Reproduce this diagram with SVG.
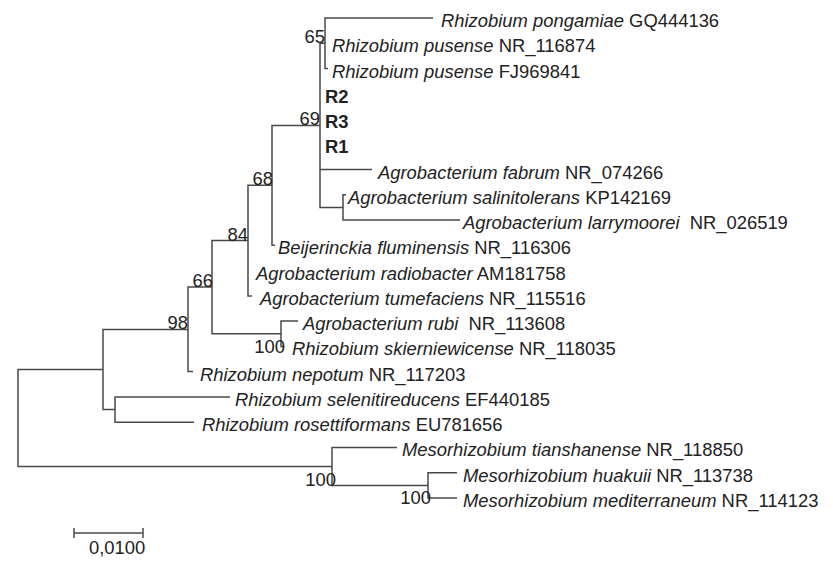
<svg xmlns="http://www.w3.org/2000/svg" width="833" height="573" viewBox="0 0 833 573">
<style>
  .br { fill: none; stroke: #4a4a4a; stroke-width: 1.5; }
  text { font-family: "Liberation Sans", Arial, sans-serif; font-size: 18.4px; fill: #222; }
  .sp { font-style: italic; }
  .b { font-weight: bold; }
  .bs { text-anchor: end; }
</style>
<rect width="833" height="573" fill="#fff"/>
<g id="connectors">
  <path class="br" d="M103,369.5 H18 V466.4 H332"/>
  <path class="br" d="M188,329.4 H103 V409.5 H115"/>
  <path class="br" d="M230,396.9 H115 V422.2 H194"/>
  <path class="br" d="M212,287.1 H188 V371.6 H193"/>
  <path class="br" d="M248,240.6 H212 V333.7 H281"/>
  <path class="br" d="M298,321.1 H281 V346.4 H284"/>
  <path class="br" d="M272,185.3 H248 V295.9 H252"/>
  <path class="br" d="M320,125.4 H272 V245.3 H275"/>
  <path class="br" d="M325,43.3 H320 V207.4 H343"/>
  <path class="br" d="M320,169.6 H372"/>
  <path class="br" d="M346,194.8 H343 V220.1 H460"/>
  <path class="br" d="M433,18 H325 V68.5 H328"/>
  <path class="br" d="M397,447.4 H332 V485.4 H428"/>
  <path class="br" d="M457,472.7 H428 V498 H457"/>
</g>
<g id="leaf-pongamiae"><text x="441" y="27"><tspan class="sp">Rhizobium pongamiae</tspan> GQ444136</text></g>
<g id="leaf-pusense-NR"><text x="332" y="52.3"><tspan class="sp">Rhizobium pusense</tspan> NR_116874</text></g>
<g id="leaf-pusense-FJ"><text x="332" y="77.5"><tspan class="sp">Rhizobium pusense</tspan> FJ969841</text></g>
<g id="leaf-R2"><text class="b" x="325" y="102.8">R2</text></g>
<g id="leaf-R3"><text class="b" x="325" y="128">R3</text></g>
<g id="leaf-R1"><text class="b" x="325" y="153.3">R1</text></g>
<g id="leaf-fabrum"><text x="378" y="178.6"><tspan class="sp">Agrobacterium fabrum</tspan> NR_074266</text></g>
<g id="leaf-salinitolerans"><text x="348" y="203.8"><tspan class="sp">Agrobacterium salinitolerans</tspan> KP142169</text></g>
<g id="leaf-larrymoorei"><text x="463" y="229.1"><tspan class="sp">Agrobacterium larrymoorei</tspan><tspan dx="10">NR_026519</tspan></text></g>
<g id="leaf-beijerinckia"><text x="278" y="254.3"><tspan class="sp">Beijerinckia fluminensis</tspan> NR_116306</text></g>
<g id="leaf-radiobacter"><text x="256" y="279.6"><tspan class="sp">Agrobacterium radiobacter</tspan> AM181758</text></g>
<g id="leaf-tumefaciens"><text x="260" y="304.9"><tspan class="sp">Agrobacterium tumefaciens</tspan> NR_115516</text></g>
<g id="leaf-rubi"><text x="303" y="330.1"><tspan class="sp">Agrobacterium rubi</tspan><tspan dx="10">NR_113608</tspan></text></g>
<g id="leaf-skierniewicense"><text x="292" y="355.4"><tspan class="sp">Rhizobium skierniewicense</tspan> NR_118035</text></g>
<g id="leaf-nepotum"><text x="200" y="380.6"><tspan class="sp">Rhizobium nepotum</tspan> NR_117203</text></g>
<g id="leaf-selenitireducens"><text x="235" y="405.9"><tspan class="sp">Rhizobium selenitireducens</tspan> EF440185</text></g>
<g id="leaf-rosettiformans"><text x="202" y="431.2"><tspan class="sp">Rhizobium rosettiformans</tspan> EU781656</text></g>
<g id="leaf-tianshanense"><text x="402" y="456.4"><tspan class="sp">Mesorhizobium tianshanense</tspan> NR_118850</text></g>
<g id="leaf-huakuii"><text x="463" y="481.7"><tspan class="sp">Mesorhizobium huakuii</tspan> NR_113738</text></g>
<g id="leaf-mediterraneum"><text x="463" y="507"><tspan class="sp">Mesorhizobium mediterraneum</tspan> NR_114123</text></g>
<g id="bootstrap-65"><text class="bs" x="325" y="43.3">65</text></g>
<g id="bootstrap-69"><text class="bs" x="320" y="125.4">69</text></g>
<g id="bootstrap-68"><text class="bs" x="273" y="185.3">68</text></g>
<g id="bootstrap-84"><text class="bs" x="248" y="240.6">84</text></g>
<g id="bootstrap-66"><text class="bs" x="213" y="287.1">66</text></g>
<g id="bootstrap-98"><text class="bs" x="188" y="329.4">98</text></g>
<g id="bootstrap-100a"><text class="bs" x="285" y="353">100</text></g>
<g id="bootstrap-100b"><text class="bs" x="336" y="485.5">100</text></g>
<g id="bootstrap-100c"><text class="bs" x="431" y="504">100</text></g>
<g id="scale-bar">
  <path class="br" d="M74,533 H143 M74,528 V538 M143,528 V538"/>
  <text x="89" y="554">0,0100</text>
</g>
</svg>
